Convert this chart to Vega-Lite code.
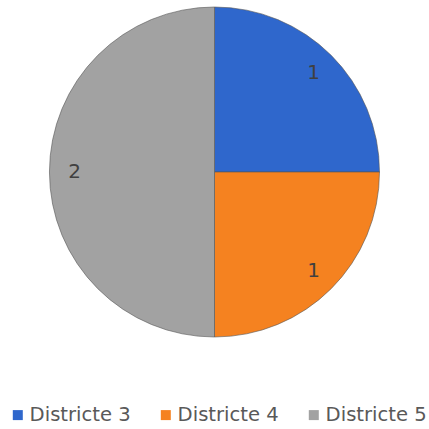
{
  "$schema": "https://vega.github.io/schema/vega-lite/v6.json",
  "width": 429,
  "height": 344,
  "padding": {"left": 0, "top": 0, "right": 0, "bottom": 85},
  "autosize": {"type": "none"},
  "background": "white",
  "config": {
    "legend": {"labelFontSize": 19.6, "labelFont": "DejaVu Sans", "labelColor": "#595959", "symbolSize": 100, "labelLimit": 300}
  },
  "data": {"values": [
    {"district": "Districte 3", "count": 1, "ord": 1},
    {"district": "Districte 4", "count": 1, "ord": 2},
    {"district": "Districte 5", "count": 2, "ord": 3}
  ]},
  "encoding": {
    "theta": {"field": "count", "type": "quantitative", "stack": true},
    "order": {"field": "ord", "type": "quantitative"},
    "color": {
      "field": "district", "type": "nominal",
      "scale": {"domain": ["Districte 3", "Districte 4", "Districte 5"], "range": ["#2f67cc", "#f58220", "#a2a2a2"]},
      "legend": {
        "title": null, "orient": "none", "direction": "horizontal",
        "legendX": 8, "legendY": 405,
        "symbolType": "square", "symbolSize": 100, "symbolStrokeWidth": 0,
        "labelFont": "DejaVu Sans", "labelFontSize": 19.6, "labelColor": "#595959",
        "columnPadding": 25, "labelOffset": 2
      }
    }
  },
  "layer": [
    {"mark": {"type": "arc", "outerRadius": 165, "stroke": "#555555", "strokeWidth": 0.6}},
    {"mark": {"type": "text", "radius": 140, "font": "DejaVu Sans", "fontSize": 20, "fill": "#404040"},
     "encoding": {"text": {"field": "count", "type": "quantitative"}, "color": {"value": "#404040"}}}
  ]
}
